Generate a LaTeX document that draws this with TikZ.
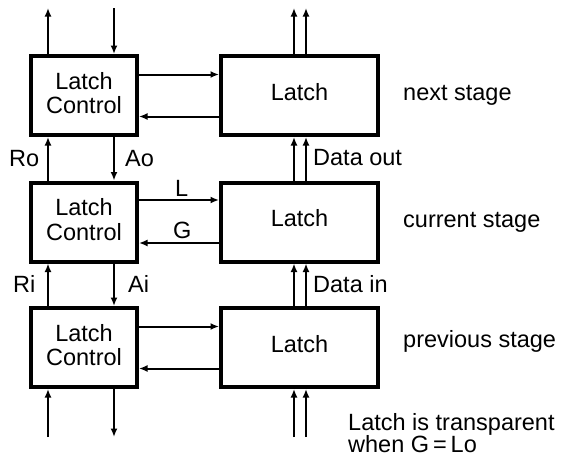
\documentclass[tikz,border=0pt]{standalone}
\usepackage{fontspec}
\setmainfont{Liberation Sans}
\usetikzlibrary{arrows.meta}
\newcommand{\twolines}[2]{\raisebox{-1pt}[\height][\depth]{\begin{tabular}{@{}c@{}}#1\\#2\end{tabular}}}
\begin{document}
\begin{tikzpicture}[x=1pt,y=-1pt,
  every node/.style={font=\fontsize{23.5}{24}\selectfont, inner sep=0pt},
  ctrlbox/.style={draw, line width=4pt, minimum width=106pt, minimum height=79pt},
  latchbox/.style={draw, line width=4pt, minimum width=157pt, minimum height=79pt, text height=17pt, text depth=8pt},
  sig/.style={line width=2pt, -{Latex[length=8.5pt,width=7pt]}},
  lbl/.style={anchor=base west}]
\useasboundingbox (0,0) rectangle (561,461);
% boxes
\node[ctrlbox] (c1) at (84,95.5) {\twolines{Latch}{Control}};
\node[ctrlbox] (c2) at (84,222) {\twolines{Latch}{Control}};
\node[ctrlbox] (c3) at (84,347.5) {\twolines{Latch}{Control}};
\node[latchbox] (l1) at (299.5,95.5) {Latch};
\node[latchbox] (l2) at (299.5,222) {Latch};
\node[latchbox] (l3) at (299.5,347.5) {Latch};
% free ends
\coordinate (t1) at (48,8);
\coordinate (t2) at (114,8);
\coordinate (t3) at (294,8);
\coordinate (t4) at (306,8);
\coordinate (b1) at (48,437);
\coordinate (b2) at (114,437);
\coordinate (b3) at (294,437);
\coordinate (b4) at (306,437);
% top
\draw[sig] (c1.north -| t1) -- (t1);
\draw[sig] (t2) -- (c1.north -| t2);
\draw[sig] (l1.north -| t3) -- (t3);
\draw[sig] (l1.north -| t4) -- (t4);
% between 1 and 2
\draw[sig] (c2.north -| t1) -- (c1.south -| t1);
\draw[sig] (c1.south -| t2) -- (c2.north -| t2);
\draw[sig] (l2.north -| t3) -- (l1.south -| t3);
\draw[sig] (l2.north -| t4) -- (l1.south -| t4);
% between 2 and 3
\draw[sig] (c3.north -| t1) -- (c2.south -| t1);
\draw[sig] (c2.south -| t2) -- (c3.north -| t2);
\draw[sig] (l3.north -| t3) -- (l2.south -| t3);
\draw[sig] (l3.north -| t4) -- (l2.south -| t4);
% bottom
\draw[sig] (b1) -- (c3.south -| b1);
\draw[sig] (c3.south -| b2) -- (b2);
\draw[sig] (b3) -- (l3.south -| b3);
\draw[sig] (b4) -- (l3.south -| b4);
% horizontal
\draw[sig] ([yshift=21pt]c1.east) -- ([yshift=21pt]c1.east -| l1.west);
\draw[sig] ([yshift=-21pt]l1.west) -- ([yshift=-21pt]l1.west -| c1.east);
\draw[sig] ([yshift=22pt]c2.east) -- ([yshift=22pt]c2.east -| l2.west);
\draw[sig] ([yshift=-21pt]l2.west) -- ([yshift=-21pt]l2.west -| c2.east);
\draw[sig] ([yshift=21pt]c3.east) -- ([yshift=21pt]c3.east -| l3.west);
\draw[sig] ([yshift=-21pt]l3.west) -- ([yshift=-21pt]l3.west -| c3.east);
% labels
\node[lbl] (ro) at (9,166) {Ro};
\node[lbl] (ao) at (125,166) {Ao};
\node[lbl] (ri) at (13,292) {Ri};
\node[lbl] (ai) at (128,292) {Ai};
\node[lbl] (ll) at (175,196) {L};
\node[lbl] (gg) at (173,238) {G};
\node[lbl] (dout) at (313,165) {Data out};
\node[lbl] (din) at (313,292) {Data in};
\node[lbl] (s1) at (403,100) {next stage};
\node[lbl] (s2) at (403,227) {current stage};
\node[lbl] (s3) at (403,347) {previous stage};
\node[lbl] (n1) at (348,430) {Latch is transparent};
\node[lbl] (n2) at (348,452) {when G\,=\,Lo};
\end{tikzpicture}
\end{document}
